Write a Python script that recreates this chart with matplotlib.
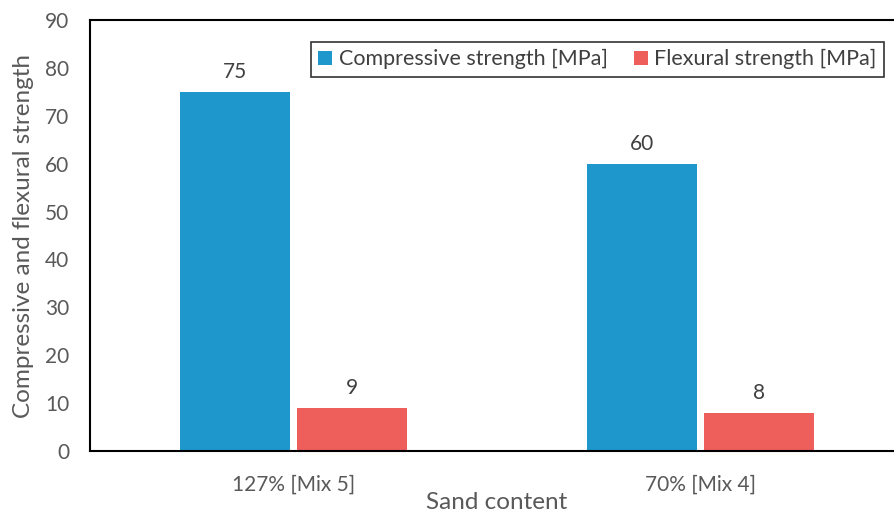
import matplotlib.pyplot as plt
import numpy as np

plt.rcParams["font.family"] = ["Lato", "DejaVu Sans"]

categories = ["127% [Mix 5]", "70% [Mix 4]"]
compressive = [75, 60]
flexural = [9, 8]

fig = plt.figure(figsize=(8.94, 5.13), dpi=100)
ax = fig.add_axes([90 / 894, 62 / 513, 814 / 894, 431 / 513])

x = np.arange(len(categories))
w = 0.27
off = 0.144
b1 = ax.bar(x - off, compressive, w, color="#1E98CC", label="Compressive strength [MPa]")
b2 = ax.bar(x + off, flexural, w, color="#EE5E5B", label="Flexural strength [MPa]")

for bars, vals in ((b1, compressive), (b2, flexural)):
    for r, v in zip(bars, vals):
        ax.text(r.get_x() + r.get_width() / 2, v + 2.0, f"{v}", ha="center", va="bottom",
                fontsize=15, color="#404040")

ax.set_xlim(-0.5, 1.5)
ax.set_ylim(0, 90)
ax.set_yticks(range(0, 91, 10))
ax.set_xticks(x)
ax.set_xticklabels(categories)
ax.tick_params(axis="both", length=0, labelsize=15, labelcolor="#595959")
ax.tick_params(axis="y", pad=15)
ax.tick_params(axis="x", pad=17)
for s in ax.spines.values():
    s.set_linewidth(1.5)
    s.set_color("black")

ax.set_xlabel("Sand content", fontsize=17.5, color="#595959", labelpad=-2)
ax.set_ylabel("Compressive and flexural strength", fontsize=17.5, color="#595959", labelpad=8)

leg = ax.legend(loc="upper left", bbox_to_anchor=(210 / 814, 1 - 11 / 431), ncol=2,
                fontsize=15.5, frameon=True, fancybox=False, handlelength=0.65, handleheight=0.65,
                handletextpad=0.3, columnspacing=1.2, borderpad=0.35, labelcolor="#404040")
leg.get_frame().set_edgecolor("black")
leg.get_frame().set_linewidth(1.2)

fig.savefig("out.png", dpi=100)
